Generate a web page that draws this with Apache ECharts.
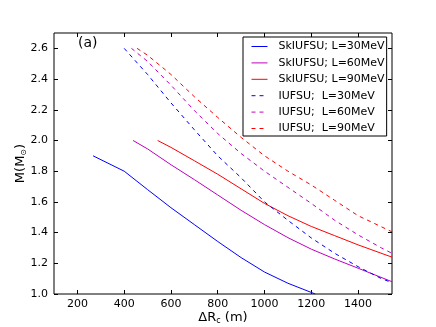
<!DOCTYPE html>
<html>
<head>
<meta charset="utf-8">
<script src="https://cdn.jsdelivr.net/npm/echarts@6/dist/echarts.min.js"></script>
<style>
  html, body { margin: 0; padding: 0; background: #fff; }
  #chart { width: 436px; height: 327px; }
</style>
</head>
<body>
<div id="chart"></div>
<script>
// values
const skX30 = [267, 400, 500, 600, 700, 800, 900, 1000, 1100, 1217]
const skY30 = [1.90, 1.80, 1.68, 1.562, 1.452, 1.342, 1.237, 1.143, 1.07, 1.0]
const skX60 = [438, 500, 600, 700, 800, 900, 1000, 1100, 1200, 1300, 1400, 1545]
const skY60 = [2.0, 1.945, 1.842, 1.745, 1.645, 1.545, 1.452, 1.367, 1.292, 1.228, 1.168, 1.08]
const skX90 = [543, 600, 700, 800, 900, 1000, 1100, 1200, 1300, 1400, 1545]
const skY90 = [2.0, 1.955, 1.868, 1.78, 1.685, 1.59, 1.51, 1.44, 1.38, 1.32, 1.24]
const iuX30 = [400, 500, 600, 700, 800, 900, 1000, 1100, 1200, 1300, 1400, 1500, 1545]
const iuY30 = [2.6, 2.43, 2.245, 2.07, 1.90, 1.757, 1.60, 1.48, 1.365, 1.265, 1.178, 1.10, 1.074]
const iuX60 = [431, 500, 600, 700, 800, 900, 1000, 1100, 1200, 1300, 1400, 1500, 1545]
const iuY60 = [2.6, 2.515, 2.36, 2.195, 2.045, 1.915, 1.80, 1.695, 1.59, 1.48, 1.385, 1.30, 1.265]
const iuX90 = [455, 500, 600, 700, 800, 900, 1000, 1100, 1200, 1300, 1400, 1545]
const iuY90 = [2.6, 2.555, 2.43, 2.285, 2.15, 2.02, 1.90, 1.80, 1.71, 1.61, 1.51, 1.405]

const xTicks = [200, 400, 600, 800, 1000, 1200, 1400]
const yTicks = [1.0, 1.2, 1.4, 1.6, 1.8, 2.0, 2.2, 2.4, 2.6]

const names = ['SkIUFSU; L=30MeV', 'SkIUFSU; L=60MeV', 'SkIUFSU; L=90MeV',
               'IUFSU;  L=30MeV', 'IUFSU;  L=60MeV', 'IUFSU;  L=90MeV']
const colors = ['#0000ff', '#bf00bf', '#ff0000', '#0000ff', '#bf00bf', '#ff0000']
const dashed = [false, false, false, true, true, true]

const font = 'DejaVu Sans'

function pairs(xs, ys) {
  return xs.map((x, i) => [x, ys[i]])
}

function lineStyleOf(i) {
  return { color: colors[i], width: 1, type: dashed[i] ? [4, 4] : 'solid' }
}

function line(i, xs, ys) {
  return {
    name: names[i],
    type: 'line',
    data: pairs(xs, ys),
    showSymbol: false,
    symbol: 'none',
    silent: true,
    lineStyle: lineStyleOf(i),
    itemStyle: { color: colors[i] }
  }
}

const tickStyle = { inside: true, length: 4, lineStyle: { color: '#000', width: 1 } }

const option = {
  animation: false,
  backgroundColor: '#fff',
  grid: {
    left: 54, right: 44, top: 33, bottom: 33,
    containLabel: false, outerBoundsMode: 'none',
    show: true, borderColor: '#000', borderWidth: 1
  },
  legend: {
    orient: 'vertical',
    left: 243, top: 37,
    data: names.map((n, i) => ({
      name: n,
      itemStyle: { color: colors[i], opacity: 0, borderWidth: 0 },
      lineStyle: lineStyleOf(i)
    })),
    itemWidth: 16, itemHeight: 12, itemGap: 5.4,
    padding: [4, 2, 2, 8],
    backgroundColor: '#fff',
    borderColor: '#000', borderWidth: 1,
    textStyle: { fontFamily: font, fontSize: 11, color: '#000', padding: [0, 0, 0, 6] }
  },
  graphic: [{
    type: 'text', left: 78, top: 36,
    style: { text: '(a)', fontFamily: font, fontSize: 14, fill: '#000' }
  }],
  xAxis: [{
    type: 'value', min: 100, max: 1545,
    axisLine: { show: false },
    axisTick: Object.assign({ customValues: xTicks }, tickStyle),
    axisLabel: {
      customValues: xTicks, fontFamily: font, fontSize: 11, color: '#000', margin: 5,
      formatter: v => String(v)
    },
    splitLine: { show: false },
    name: 'ΔR{s|c} (m)',
    nameLocation: 'middle', nameGap: 17, nameMoveOverlap: false,
    nameTextStyle: {
      fontFamily: font, fontSize: 13, color: '#000',
      rich: { s: { fontFamily: font, fontSize: 8, color: '#000', padding: [6, 0, 0, 0] } }
    }
  }, {
    type: 'value', min: 100, max: 1545, position: 'top',
    axisLine: { show: false },
    axisTick: Object.assign({ customValues: xTicks }, tickStyle),
    axisLabel: { show: false },
    splitLine: { show: false }
  }],
  yAxis: [{
    type: 'value', min: 1.0, max: 2.7,
    axisLine: { show: false },
    axisTick: Object.assign({ customValues: yTicks }, tickStyle),
    axisLabel: {
      customValues: yTicks, fontFamily: font, fontSize: 11, color: '#000', margin: 6,
      formatter: v => v.toFixed(1)
    },
    splitLine: { show: false },
    name: 'M(M{s|⊙})',
    nameLocation: 'middle', nameGap: 26, nameMoveOverlap: false,
    nameTextStyle: {
      fontFamily: font, fontSize: 13, color: '#000',
      rich: { s: { fontFamily: font, fontSize: 8, color: '#000', padding: [6, 0, 0, 0] } }
    }
  }, {
    type: 'value', min: 1.0, max: 2.7, position: 'right',
    axisLine: { show: false },
    axisTick: Object.assign({ customValues: yTicks }, tickStyle),
    axisLabel: { show: false },
    splitLine: { show: false }
  }],
  series: [
    line(0, skX30, skY30),
    line(1, skX60, skY60),
    line(2, skX90, skY90),
    line(3, iuX30, iuY30),
    line(4, iuX60, iuY60),
    line(5, iuX90, iuY90)
  ]
}

const chart = echarts.init(document.getElementById('chart'))
chart.setOption(option)
</script>
</body>
</html>
